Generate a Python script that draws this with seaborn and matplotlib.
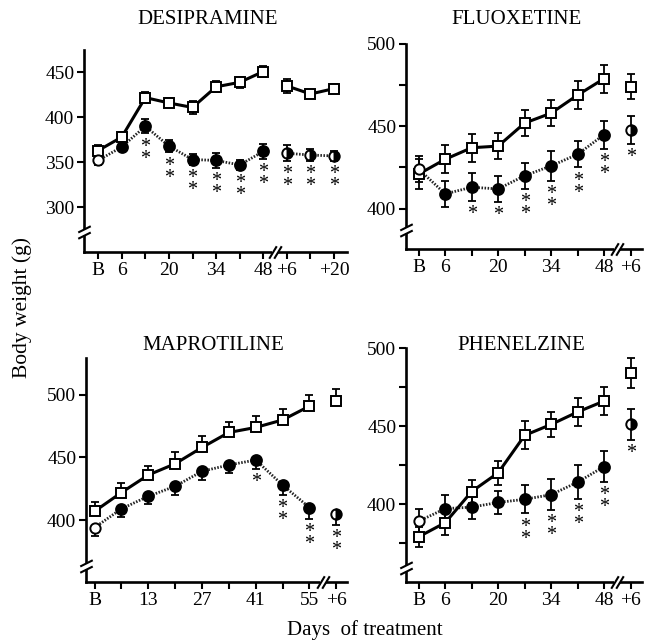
import numpy as np
import pandas as pd
import matplotlib
matplotlib.use("Agg")
import matplotlib.pyplot as plt
from matplotlib.path import Path
import seaborn as sns

sns.set_theme(style="ticks")
plt.rcParams["font.family"] = ["Liberation Serif", "DejaVu Serif"]

# ---------------- data ----------------
titles = ["DESIPRAMINE", "FLUOXETINE", "MAPROTILINE", "PHENELZINE"]

desi_labels = ["B", "6", "", "20", "", "34", "", "48", "+6", "", "+20"]
desi_ctrl = [363, 378, 422, 416, 411, 434, 439, 451, 435, 426, 432]
desi_ctrl_err = [6, 6, 6, 5, 7, 6, 6, 6, 8, 5, 5]
desi_drug = [352, 367, 390, 368, 353, 352, 347, 362, 360, 358, 357]
desi_drug_err = [5, 5, 8, 7, 6, 8, 6, 8, 9, 7, 6]
desi_stars = ["", "", "**", "**", "**", "**", "**", "**", "**", "**", "**"]

flu_labels = ["B", "6", "", "20", "", "34", "", "48", "+6"]
flu_ctrl = [421, 430, 437, 438, 452, 458, 469, 479, 474]
flu_ctrl_err = [9, 8.5, 8.5, 8, 8, 8, 8.5, 8.5, 7.5]
flu_drug = [424, 409, 413, 412, 420, 426, 433, 445, 448]
flu_drug_err = [8, 8, 8.5, 8, 8, 9, 8, 8.5, 8.5]
flu_stars = ["", "", "*", "*", "**", "**", "**", "**", "*"]

map_labels = ["B", "", "13", "", "27", "", "41", "", "55", "+6"]
map_ctrl = [407, 422, 436, 445, 458, 470, 474, 480, 491, 495]
map_ctrl_err = [7.5, 7.5, 7, 9, 9, 8, 9, 8.5, 9, 10]
map_drug = [394, 409, 419, 427, 439, 444, 448, 428, 410, 405]
map_drug_err = [6.5, 6.5, 6.5, 7, 7, 6, 7, 8, 9, 9]
map_stars = ["", "", "", "", "", "", "*", "**", "**", "**"]

phe_labels = ["B", "6", "", "20", "", "34", "", "48", "+6"]
phe_ctrl = [379, 388, 408, 420, 444, 451, 459, 466, 484]
phe_ctrl_err = [6.5, 8, 7.5, 7.5, 9, 8, 9, 9, 9.5]
phe_drug = [389, 397, 398, 401, 403, 406, 414, 424, 451]
phe_drug_err = [8, 9, 7.5, 7.5, 9, 10, 11, 10, 10]
phe_stars = ["", "", "", "", "**", "**", "**", "**", "*"]

panels = [
    dict(labels=desi_labels, ctrl=desi_ctrl, cerr=desi_ctrl_err, drug=desi_drug,
         derr=desi_drug_err, stars=desi_stars, n_main=8),
    dict(labels=flu_labels, ctrl=flu_ctrl, cerr=flu_ctrl_err, drug=flu_drug,
         derr=flu_drug_err, stars=flu_stars, n_main=8),
    dict(labels=map_labels, ctrl=map_ctrl, cerr=map_ctrl_err, drug=map_drug,
         derr=map_drug_err, stars=map_stars, n_main=9),
    dict(labels=phe_labels, ctrl=phe_ctrl, cerr=phe_ctrl_err, drug=phe_drug,
         derr=phe_drug_err, stars=phe_stars, n_main=8),
]

# ---------------- layout ----------------
W, H = 648, 640
layout = [
    dict(box=(84, 347, 50, 252), ylim=(250, 475), yt=[300, 350, 400, 450],
         ytl=["300", "350", "400", "450"], xlim=(-0.6, 10.55), xbrk=7.5, ybrk=272,
         title=(208, 20), onesided=False),
    dict(box=(406, 642, 44, 249), ylim=(375.5, 500), yt=[400, 425, 450, 475, 500],
         ytl=["400", "", "450", "", "500"], xlim=(-0.48, 8.43), xbrk=7.5, ybrk=387,
         title=(516, 20), onesided=False),
    dict(box=(86, 347, 358, 582), ylim=(350.5, 529.5), yt=[400, 450, 500],
         ytl=["400", "450", "500"], xlim=(-0.32, 9.4), xbrk=8.5, ybrk=363,
         title=(213, 346), onesided=True),
    dict(box=(406, 642, 348, 582), ylim=(350, 500), yt=[375, 400, 425, 450, 475, 500],
         ytl=["", "400", "", "450", "", "500"], xlim=(-0.48, 8.43), xbrk=7.5, ybrk=359,
         title=(521, 346), onesided=False),
]

fig = plt.figure(figsize=(W / 100, H / 100), dpi=100)

ybreak_marker = Path([(-1, -1), (1, 0), (-1, 0), (1, 1)],
                     [Path.MOVETO, Path.LINETO, Path.MOVETO, Path.LINETO])
xbreak_marker = Path([(-1, -1), (0.2, 1), (-0.2, -1), (1, 1)],
                     [Path.MOVETO, Path.LINETO, Path.MOVETO, Path.LINETO])

for p, lay, title in zip(panels, layout, titles):
    l, r, t, b = lay["box"]
    ax = fig.add_axes([l / W, 1 - b / H, (r - l) / W, (b - t) / H])
    n = len(p["labels"])
    x = np.arange(n)
    nm = p["n_main"]
    ctrl = np.array(p["ctrl"], float)
    drug = np.array(p["drug"], float)
    cerr = np.array(p["cerr"], float)
    derr = np.array(p["derr"], float)

    # error bars
    if lay["onesided"]:
        ce = [np.zeros(n), cerr]
        de = [derr, np.zeros(n)]
    else:
        ce, de = cerr, derr
    ax.errorbar(x, ctrl, yerr=ce, fmt="none", ecolor="black", elinewidth=1.3,
                capsize=3, capthick=1.3, zorder=2)
    ax.errorbar(x, drug, yerr=de, fmt="none", ecolor="black", elinewidth=1.3,
                capsize=3, capthick=1.3, zorder=2)

    segs = [(0, nm), (nm, n)]
    for s0, s1 in segs:
        xs = x[s0:s1]
        df_c = pd.DataFrame({"day": xs, "w": ctrl[s0:s1]})
        df_d = pd.DataFrame({"day": xs, "w": drug[s0:s1]})
        # drug dotted line
        if len(xs) > 1:
            sns.lineplot(data=df_d, x="day", y="w", ax=ax, color="#222222",
                         linewidth=2.0, linestyle=(0, (0.55, 0.55)), zorder=3,
                         sort=False)
        # control solid line with open squares
        sns.lineplot(data=df_c, x="day", y="w", ax=ax, color="black",
                     linewidth=2.2, marker="s", markersize=7,
                     markerfacecolor="white", markeredgecolor="black",
                     markeredgewidth=1.4, zorder=4, sort=False)

    # drug markers
    sns.scatterplot(x=x[1:nm], y=drug[1:nm], ax=ax, color="black", s=64,
                    edgecolor="black", linewidth=1.2, zorder=5)
    sns.scatterplot(x=x[:1], y=drug[:1], ax=ax, color="white", s=55,
                    edgecolor="black", linewidth=1.4, zorder=5)
    ax.plot(x[nm:], drug[nm:], linestyle="none", marker="o", markersize=7.5,
            fillstyle="right", markerfacecolor="black",
            markerfacecoloralt="white", markeredgecolor="black",
            markeredgewidth=1.4, zorder=5)

    # significance stars
    for xi, yi, ei, st in zip(x, drug, derr, p["stars"]):
        if st:
            ax.annotate("\n".join(st), (xi, yi - ei), xytext=(0, -3),
                        textcoords="offset points", ha="center", va="top",
                        fontsize=14.5, linespacing=0.5, color="black")

    ax.set_xlim(*lay["xlim"])
    ax.set_ylim(*lay["ylim"])
    ax.set_xticks(x)
    ax.set_xticklabels(p["labels"])
    ax.set_yticks(lay["yt"])
    ax.set_yticklabels(lay["ytl"])
    ax.set_xlabel("")
    ax.set_ylabel("")
    sns.despine(ax=ax)
    for sp in ("left", "bottom"):
        ax.spines[sp].set_linewidth(1.9)
        ax.spines[sp].set_color("black")
    ax.tick_params(direction="out", length=5, width=1.5, color="black",
                   labelsize=14, labelcolor="black", pad=2)
    ax.set_facecolor("none")

    # axis breaks
    ax.plot([0], [lay["ybrk"]], marker="s", markersize=4.5, color="white",
            markeredgewidth=0, transform=ax.get_yaxis_transform(),
            clip_on=False, zorder=6)
    ax.plot([0], [lay["ybrk"]], marker=ybreak_marker, markersize=9,
            markerfacecolor="none", markeredgecolor="black",
            markeredgewidth=1.5, transform=ax.get_yaxis_transform(),
            clip_on=False, zorder=7)
    ax.plot([lay["xbrk"]], [0], marker="s", markersize=4.5, color="white",
            markeredgewidth=0, transform=ax.get_xaxis_transform(),
            clip_on=False, zorder=6)
    ax.plot([lay["xbrk"]], [0], marker=xbreak_marker, markersize=9,
            markerfacecolor="none", markeredgecolor="black",
            markeredgewidth=1.5, transform=ax.get_xaxis_transform(),
            clip_on=False, zorder=7)

    tx, ty = lay["title"]
    fig.text(tx / W, 1 - ty / H, title, ha="center", va="center", fontsize=15,
             color="black")

fig.text(22 / W, 1 - 307 / H, "Body weight (g)", rotation=90, ha="center",
         va="center", fontsize=15.5, color="black")
fig.text(365 / W, 1 - 630 / H, "Days  of treatment", ha="center", va="center",
         fontsize=15, color="black")

fig.savefig("out.png", dpi=100, facecolor="white")
